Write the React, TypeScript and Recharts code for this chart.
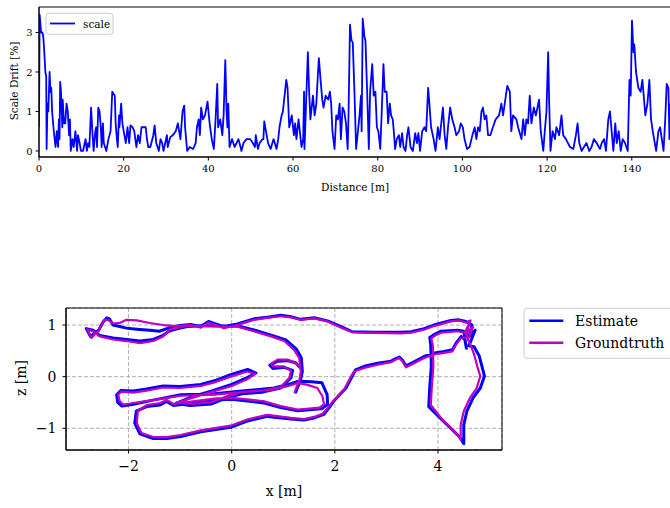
import React from 'react';
import { LineChart, Line, XAxis, YAxis, ReferenceArea, CartesianGrid } from 'recharts';

const FONT = "'DejaVu Serif', serif";

// ---- Top chart: scale drift vs distance ----
const scaleSamples: [number, number][] = [
  [0, 0.6], [0.15, 3.45], [0.5, 3.0], [0.8, 3.0], [1.0, 2.9], [1.2, 2.6], [1.5, 2.0], [1.7, 1.9], [1.8, 0.05],
  [2.0, 1.2], [2.2, 1.0], [2.5, 2.0], [2.7, 1.5], [2.9, 1.6], [3.1, 1.0], [3.5, 0.5], [3.9, 0.1], [4.2, 0.5],
  [4.5, 0.1], [4.7, 0.8], [4.85, 0.3], [5.0, 1.75], [5.2, 1.5], [5.5, 0.6], [5.6, 1.3], [5.9, 0.7], [6.2, 0.7],
  [6.5, 1.2], [6.8, 1.0], [7.1, 0.4], [7.3, 0.8], [7.5, 0.0], [7.9, 0.3], [8.2, 0.1], [8.6, 0.5], [9.0, 0.0],
  [9.2, 0.4], [9.6, 0.2], [9.9, 0.0], [10.4, 0.0], [10.8, 0.2], [11.0, 0.3], [11.3, 0.0], [11.6, 0.2], [11.9, 0.1],
  [12.3, 1.1], [12.6, 0.5], [12.9, 0.0], [13.3, 0.5], [13.5, 0.6], [13.7, 0.1], [14.0, 1.1], [14.3, 1.0], [14.6, 0.6],
  [14.8, 0.1], [15.1, 0.7], [15.3, 0.2], [15.9, 0.0], [16.4, 0.3], [16.9, 0.5], [17.3, 1.5], [17.9, 1.4], [18.1, 0.7],
  [18.4, 0.3], [18.6, 0.1], [18.9, 0.9], [19.0, 0.6], [19.4, 1.2], [19.7, 0.7], [20.0, 0.5], [20.5, 0.2], [20.9, 0.6],
  [21.3, 0.2], [21.6, 0.65], [22.1, 0.6], [22.5, 0.5], [23.0, 0.1], [23.4, 0.4], [23.8, 0.2], [24.2, 0.6], [25.2, 0.6],
  [25.5, 0.3], [25.8, 0.1], [26.3, 0.1], [27.0, 0.4], [27.3, 0.65], [27.7, 0.2], [28.3, 0.0], [28.7, 0.3], [29.1, 0.2],
  [29.4, 0.0], [29.9, 0.25], [30.2, 0.4], [30.4, 0.1], [31.0, 0.35], [31.6, 0.4], [32.3, 0.5], [32.8, 0.7], [33.4, 0.3],
  [33.9, 1.0], [34.3, 1.15], [34.5, 0.6], [35.0, 0.0], [35.6, 0.1], [36.4, 0.05], [37.0, 0.2], [37.3, 0.6], [37.7, 0.8],
  [38.0, 0.4], [38.3, 1.1], [38.7, 0.8], [39.2, 0.9], [39.8, 1.25], [40.3, 0.7], [40.8, 0.3], [41.3, 0.05], [41.7, 0.8],
  [42.1, 1.7], [42.3, 0.6], [42.8, 0.8], [43.3, 0.4], [43.6, 0.9], [44.0, 2.3], [44.3, 1.0], [44.5, 0.6], [44.7, 1.2],
  [45.0, 0.1], [45.6, 0.3], [46.2, 0.1], [47.1, 0.3], [47.6, 0.1], [47.8, 0.0], [48.3, 0.2], [49.0, 0.3], [49.9, 0.3],
  [50.5, 0.2], [51.0, 0.1], [51.2, 0.4], [51.7, 0.05], [52.1, 0.2], [52.8, 0.3], [53.0, 0.3], [53.2, 0.75], [53.6, 0.5],
  [54.1, 0.2], [54.7, 0.05], [55.4, 0.3], [56.1, 0.05], [56.5, 0.3], [56.8, 0.6], [57.3, 0.9], [57.6, 1.0], [58.4, 1.8],
  [58.7, 1.6], [59.1, 0.6], [59.7, 0.9], [60.2, 0.4], [60.5, 0.7], [60.8, 0.3], [61.3, 0.8], [62.0, 0.1], [62.4, 0.3],
  [62.6, 1.5], [62.7, 0.05], [63.5, 2.5], [63.8, 1.5], [64.1, 0.8], [64.7, 1.4], [65.1, 0.9], [65.5, 1.2], [65.9, 2.0],
  [66.1, 2.35], [66.5, 1.8], [66.9, 1.3], [67.2, 1.1], [67.7, 1.4], [68.3, 1.3], [68.7, 1.5], [69.0, 1.2], [69.3, 0.5],
  [69.8, 0.05], [70.2, 0.9], [70.6, 0.8], [71.0, 1.2], [71.3, 0.3], [71.7, 1.1], [72.1, 1.0], [72.5, 0.7], [72.9, 0.05],
  [73.1, 0.9], [73.45, 3.2], [73.8, 2.8], [74.1, 2.75], [74.5, 1.5], [74.9, 0.05], [75.7, 0.9], [76.05, 1.4], [76.2, 0.5],
  [76.45, 3.35], [76.85, 2.9], [77.1, 2.8], [77.5, 1.5], [77.9, 0.05], [78.2, 1.5], [78.7, 2.2], [79.05, 1.4], [79.45, 1.5],
  [79.8, 0.6], [80.15, 0.5], [80.6, 0.05], [80.95, 1.0], [81.35, 2.2], [81.65, 1.5], [82.1, 1.5], [82.45, 0.7], [82.85, 1.2],
  [83.15, 0.9], [83.55, 0.8], [83.8, 0.5], [84.1, 0.05], [84.5, 0.3], [85.0, 0.4], [85.3, 0.1], [85.75, 0.45], [86.1, 0.1],
  [86.55, 0.0], [86.95, 0.4], [87.25, 0.6], [87.75, 0.1], [88.3, 0.0], [88.85, 0.45], [89.25, 0.2], [89.6, 0.45], [90.0, 0.0],
  [90.5, 0.5], [91.05, 0.6], [91.45, 0.5], [91.9, 1.6], [92.2, 1.2], [92.6, 0.6], [93.2, 0.3], [93.65, 0.0], [94.2, 0.6],
  [94.6, 0.3], [95.4, 1.1], [95.8, 0.4], [96.2, 0.05], [96.6, 0.6], [97.1, 1.1], [97.6, 0.8], [98.15, 0.6], [98.55, 0.4],
  [99.2, 0.5], [99.6, 0.7], [100.1, 0.6], [100.5, 0.3], [101.1, 0.05], [101.7, 0.1], [102.35, 0.4], [102.9, 0.6], [103.3, 0.3],
  [103.7, 0.6], [104.1, 0.5], [104.5, 1.0], [104.85, 1.1], [105.25, 0.8], [105.65, 0.9], [106.05, 0.4], [106.6, 0.4], [107.2, 0.6],
  [107.85, 0.8], [108.65, 0.9], [109.2, 1.2], [109.6, 0.9], [110.4, 1.5], [110.6, 1.65], [111.2, 1.5], [111.55, 0.5], [111.95, 0.9],
  [112.75, 0.8], [113.15, 0.6], [113.95, 0.3], [114.35, 0.8], [114.75, 0.4], [115.1, 0.8], [115.5, 0.7], [115.9, 1.4], [116.3, 0.7],
  [116.85, 1.1], [117.35, 0.9], [118.1, 1.3], [118.5, 0.5], [119.1, 0.0], [119.45, 0.5], [119.85, 1.0], [120.25, 2.5], [120.5, 1.2],
  [120.8, 0.0], [121.3, 0.5], [121.85, 0.3], [122.2, 0.6], [122.85, 0.4], [123.4, 0.9], [123.8, 0.4], [124.45, 0.3], [125.4, 0.1],
  [126.2, 0.05], [126.8, 0.4], [127.2, 0.7], [127.6, 0.2], [128.15, 0.0], [128.7, 0.1], [129.3, 0.2], [129.95, 0.0], [130.5, 0.1],
  [131.05, 0.3], [131.7, 0.2], [132.5, 0.05], [132.9, 0.2], [133.45, 0.3], [133.9, 0.0], [134.45, 0.8], [134.85, 1.0], [135.25, 0.5],
  [135.65, 0.0], [136.1, 0.7], [136.45, 0.2], [136.9, 0.5], [137.4, 0.0], [137.85, 0.3], [138.4, 0.2], [139.05, 0.0], [139.45, 1.8],
  [139.75, 1.4], [140.05, 3.3], [140.4, 2.5], [140.6, 2.7], [141.0, 2.0], [141.55, 1.6], [142.1, 1.5], [142.5, 1.8], [142.9, 1.3],
  [143.2, 0.9], [143.7, 1.2], [144.15, 1.8], [144.55, 0.8], [144.95, 0.5], [145.75, 0.0], [146.3, 0.5], [146.7, 0.6], [147.5, 0.0],
  [147.9, 0.8], [148.25, 1.7], [148.65, 1.6], [148.9, 0.3], [149.05, 1.2],
];
const distanceTicks = [0, 20, 40, 60, 80, 100, 120, 140];
const driftTicks = [0, 1, 2, 3];

// ---- Bottom chart: trajectory (x, z) ----
const groundtruthPath: [number, number][] = [
  [1.22, -0.3], [1.26, -0.2], [1.31, -0.09], [1.34, 0.1], [1.31, 0.36], [1.21, 0.52], [1.02, 0.69], [0.76, 0.78],
  [0.43, 0.88], [0.11, 0.97], [-0.15, 0.97], [-0.5, 0.98], [-0.86, 0.98], [-1.0, 0.96], [-1.2, 0.91], [-1.33, 0.78],
  [-1.52, 0.69], [-1.78, 0.65], [-2.04, 0.69], [-2.3, 0.72], [-2.56, 0.78], [-2.69, 0.88], [-2.8, 0.92],
  [-2.72, 0.75], [-2.65, 0.82], [-2.59, 0.88], [-2.52, 1.01], [-2.47, 1.1], [-2.4, 1.1], [-2.3, 1.03], [-2.17, 1.04],
  [-2.04, 1.1], [-1.84, 1.09], [-1.59, 1.04], [-1.33, 1.0], [-1.07, 0.98], [-0.8, 1.0], [-0.6, 0.95], [-0.45, 1.05],
  [-0.34, 1.01], [-0.15, 0.94], [0.11, 1.0], [0.43, 1.1], [0.69, 1.14], [0.95, 1.17], [1.15, 1.15], [1.34, 1.1],
  [1.6, 1.13], [1.86, 1.07], [2.12, 0.95], [2.34, 0.86], [2.76, 0.85], [3.28, 0.84], [3.48, 0.85], [3.73, 0.91],
  [3.92, 0.98], [4.25, 1.07], [4.41, 1.09], [4.54, 1.05],
  [4.63, 1.09], [4.56, 0.86], [4.68, 0.96], [4.58, 0.72], [4.63, 0.62], [4.7, 0.43], [4.77, 0.17], [4.82, 0.01],
  [4.75, -0.22], [4.62, -0.41], [4.5, -0.67], [4.44, -0.93], [4.44, -1.22],
  [4.37, -1.12], [4.3, -1.05], [4.06, -0.8], [3.86, -0.55], [3.88, -0.2], [3.91, 0.2], [3.9, 0.6], [3.87, 0.74],
  [3.95, 0.8], [4.06, 0.85], [4.38, 0.88], [4.52, 0.85], [4.6, 1.02], [4.55, 0.76],
  [4.45, 0.75], [4.35, 0.62], [4.28, 0.49], [4.12, 0.46], [3.93, 0.43], [3.73, 0.36], [3.48, 0.23], [3.38, 0.18],
  [3.31, 0.3], [3.25, 0.36], [3.18, 0.33], [3.09, 0.28], [2.83, 0.23], [2.57, 0.17], [2.37, 0.1], [2.28, -0.06],
  [2.18, -0.25], [2.08, -0.35], [1.96, -0.48], [1.86, -0.61], [1.76, -0.72], [1.6, -0.78], [1.4, -0.82], [1.15, -0.8],
  [0.69, -0.74], [0.3, -0.83], [-0.02, -0.95], [-0.6, -1.04], [-0.99, -1.13], [-1.26, -1.17], [-1.52, -1.17],
  [-1.75, -1.09], [-1.84, -0.9], [-1.82, -0.67],
  [-1.65, -0.55], [-1.39, -0.51], [-1.26, -0.45], [-1.13, -0.53], [-0.9, -0.5], [-0.6, -0.46], [-0.3, -0.42],
  [0.0, -0.41], [0.3, -0.44], [0.63, -0.48], [0.95, -0.57], [1.28, -0.64], [1.5, -0.62], [1.7, -0.6], [1.79, -0.54],
  [1.76, -0.38], [1.66, -0.22], [1.47, -0.16], [1.28, -0.12], [1.1, -0.18], [0.82, -0.25], [0.3, -0.29],
  [-0.34, -0.35], [-0.99, -0.37], [-1.5, -0.45], [-1.91, -0.51], [-2.1, -0.54], [-2.17, -0.48], [-2.2, -0.35],
  [-2.14, -0.29], [-1.91, -0.31], [-1.65, -0.27], [-1.33, -0.21], [-1.0, -0.22], [-0.6, -0.18], [-0.3, -0.1],
  [-0.02, 0.0], [0.3, 0.1], [0.45, 0.05], [0.3, -0.05], [0.0, -0.18], [-0.4, -0.3], [-0.8, -0.42], [-1.05, -0.5],
  [-0.8, -0.53], [-0.4, -0.5], [-0.1, -0.38], [0.2, -0.3], [0.6, -0.27], [0.95, -0.2], [1.12, -0.02], [1.15, 0.12],
  [1.0, 0.2], [0.8, 0.2], [0.76, 0.25], [0.89, 0.33], [1.08, 0.33], [1.24, 0.27], [1.3, 0.2],
];
const estimatePath: [number, number][] = [
  [1.24, -0.3], [1.28, -0.2], [1.33, -0.09], [1.37, 0.1], [1.35, 0.36], [1.25, 0.54], [1.05, 0.71], [0.78, 0.8],
  [0.45, 0.9], [0.12, 0.98], [-0.15, 0.98], [-0.5, 0.99], [-0.86, 0.97], [-1.0, 0.94], [-1.2, 0.89], [-1.33, 0.8],
  [-1.52, 0.72], [-1.78, 0.69], [-2.04, 0.72], [-2.3, 0.75], [-2.56, 0.8], [-2.69, 0.9], [-2.82, 0.93],
  [-2.74, 0.78], [-2.66, 0.84], [-2.58, 0.9], [-2.5, 1.05], [-2.42, 1.14], [-2.37, 1.12], [-2.3, 1.0], [-2.17, 0.97],
  [-2.04, 0.94], [-1.84, 0.92], [-1.59, 0.9], [-1.4, 0.88], [-1.2, 0.95], [-1.0, 0.99], [-0.8, 1.01], [-0.6, 0.97],
  [-0.45, 1.07], [-0.34, 1.03], [-0.15, 0.97], [0.11, 1.02], [0.43, 1.12], [0.69, 1.15], [0.95, 1.19], [1.15, 1.16],
  [1.34, 1.11], [1.6, 1.14], [1.86, 1.08], [2.12, 0.97], [2.34, 0.87], [2.76, 0.86], [3.28, 0.86], [3.48, 0.87],
  [3.73, 0.93], [3.92, 1.0], [4.25, 1.09], [4.41, 1.1], [4.54, 1.07],
  [4.66, 1.0], [4.6, 0.78], [4.72, 0.9], [4.6, 0.6], [4.7, 0.58], [4.8, 0.4], [4.86, 0.17], [4.9, 0.01],
  [4.82, -0.22], [4.68, -0.41], [4.56, -0.67], [4.5, -0.93], [4.5, -1.3],
  [4.42, -1.17], [4.34, -1.09], [4.08, -0.84], [3.82, -0.58], [3.84, -0.2], [3.87, 0.2], [3.86, 0.6], [3.84, 0.76],
  [3.95, 0.83], [4.06, 0.88], [4.38, 0.9], [4.5, 0.88], [4.55, 0.55], [4.52, 0.72],
  [4.45, 0.78], [4.35, 0.65], [4.28, 0.52], [4.12, 0.49], [3.93, 0.46], [3.73, 0.39], [3.48, 0.26], [3.38, 0.21],
  [3.31, 0.32], [3.25, 0.38], [3.18, 0.35], [3.09, 0.3], [2.83, 0.26], [2.57, 0.2], [2.4, 0.13], [2.31, -0.04],
  [2.21, -0.23], [2.11, -0.33], [1.99, -0.46], [1.89, -0.6], [1.79, -0.73], [1.6, -0.8], [1.4, -0.84], [1.15, -0.82],
  [0.69, -0.77], [0.3, -0.86], [-0.02, -0.98], [-0.6, -1.07], [-0.99, -1.16], [-1.26, -1.2], [-1.52, -1.2],
  [-1.78, -1.11], [-1.88, -0.9], [-1.85, -0.67],
  [-1.65, -0.58], [-1.39, -0.55], [-1.26, -0.48], [-1.13, -0.56], [-0.9, -0.53], [-0.6, -0.49], [-0.3, -0.45],
  [0.0, -0.44], [0.3, -0.47], [0.63, -0.51], [0.95, -0.6], [1.28, -0.66], [1.5, -0.64], [1.75, -0.62], [1.86, -0.54],
  [1.85, -0.35], [1.75, -0.12], [1.55, -0.1], [1.3, -0.09], [1.1, -0.15], [0.82, -0.22], [0.3, -0.27],
  [-0.34, -0.33], [-0.99, -0.35], [-1.5, -0.45], [-1.93, -0.54], [-2.13, -0.57], [-2.21, -0.5], [-2.23, -0.35],
  [-2.15, -0.27], [-1.91, -0.28], [-1.65, -0.24], [-1.33, -0.18], [-1.0, -0.19], [-0.6, -0.15], [-0.3, -0.07],
  [-0.02, 0.04], [0.31, 0.14], [0.47, 0.07], [0.3, -0.02], [0.0, -0.15], [-0.4, -0.28], [-0.8, -0.4], [-1.08, -0.52],
  [-0.8, -0.56], [-0.4, -0.53], [-0.1, -0.41], [0.2, -0.33], [0.6, -0.3], [0.95, -0.22], [1.15, -0.02], [1.18, 0.12],
  [1.02, 0.18], [0.8, 0.16], [0.74, 0.22], [0.89, 0.3], [1.08, 0.31], [1.24, 0.27], [1.32, 0.18],
];
const xTicks = [-2, 0, 2, 4];
const zTicks = [-1, 0, 1];

const driftData = scaleSamples.map(([d, v]) => ({ d, v }));
const gtData = groundtruthPath.map(([x, z]) => ({ x, z }));
const estData = estimatePath.map(([x, z]) => ({ x, z }));

const TOP_X_DOMAIN: [number, number] = [0, 149.5];
const TOP_Y_DOMAIN: [number, number] = [-0.153, 3.646];
const BOT_X_DOMAIN: [number, number] = [-3.213, 5.241];
const BOT_Z_DOMAIN: [number, number] = [-1.421, 1.33];

const fmtMinus = (v: number) => (v < 0 ? `\u2212${Math.abs(v)}` : `${v}`);

export default function App() {
  return (
    <div style={{ position: 'absolute', left: 0, top: 0, width: 670, height: 508, overflow: 'hidden', background: '#fff' }}>
      <div style={{ position: 'absolute', left: 0, top: 0 }}>
        <LineChart width={672} height={200} data={driftData} margin={{ top: 7, right: 0, bottom: 0, left: 0 }}>
          <XAxis
            dataKey="d"
            type="number"
            domain={TOP_X_DOMAIN}
            allowDataOverflow
            ticks={distanceTicks}
            height={43}
            tickSize={3.5}
            tickMargin={4}
            stroke="#000"
            tick={{ fill: '#000', fontSize: 10, fontFamily: FONT }}
          />
          <YAxis
            type="number"
            domain={TOP_Y_DOMAIN}
            allowDataOverflow
            ticks={driftTicks}
            width={39}
            tickSize={3.5}
            tickMargin={3}
            stroke="#000"
            tick={{ fill: '#000', fontSize: 10, fontFamily: FONT }}
          />
          <ReferenceArea x1={TOP_X_DOMAIN[0]} x2={TOP_X_DOMAIN[1]} y1={TOP_Y_DOMAIN[0]} y2={TOP_Y_DOMAIN[1]} fill="none" fillOpacity={0} stroke="#000" strokeWidth={1} />
          <Line dataKey="v" type="linear" stroke="#0000ff" strokeWidth={1.8} strokeLinejoin="round" dot={false} isAnimationActive={false} />
        </LineChart>
      </div>
      <div style={{ position: 'absolute', left: 0, top: 290 }}>
        <LineChart width={670} height={218} margin={{ top: 18, right: 168, bottom: 0, left: 0 }}>
          <CartesianGrid stroke="#b0b0b0" strokeDasharray="4 2" />
          <XAxis
            dataKey="x"
            type="number"
            domain={BOT_X_DOMAIN}
            allowDataOverflow
            ticks={xTicks}
            tickFormatter={fmtMinus}
            height={58}
            tickSize={3.5}
            tickMargin={8}
            stroke="#000"
            tick={{ fill: '#000', fontSize: 14, fontFamily: FONT }}
          />
          <YAxis
            dataKey="z"
            type="number"
            domain={BOT_Z_DOMAIN}
            allowDataOverflow
            ticks={zTicks}
            tickFormatter={fmtMinus}
            width={66}
            tickSize={3.5}
            tickMargin={6}
            stroke="#000"
            tick={{ fill: '#000', fontSize: 14, fontFamily: FONT }}
          />
          <ReferenceArea x1={BOT_X_DOMAIN[0]} x2={BOT_X_DOMAIN[1]} y1={BOT_Z_DOMAIN[0]} y2={BOT_Z_DOMAIN[1]} fill="none" fillOpacity={0} stroke="#000" strokeWidth={1} />
          <Line data={estData} dataKey="z" type="linear" stroke="#0000ff" strokeWidth={3} strokeLinejoin="round" strokeLinecap="round" dot={false} isAnimationActive={false} />
          <Line data={gtData} dataKey="z" type="linear" stroke="#bf00bf" strokeWidth={2.2} strokeLinejoin="round" strokeLinecap="round" dot={false} isAnimationActive={false} />
        </LineChart>
      </div>
      <svg width={670} height={508} style={{ position: 'absolute', left: 0, top: 0, pointerEvents: 'none' }} fontFamily={FONT}>
        {/* top axis titles */}
        <text x={13.5} y={81} fontSize={10.5} textAnchor="middle" dominantBaseline="central" transform="rotate(-90 13.5 81)">Scale Drift [%]</text>
        <text x={355} y={187} fontSize={10.5} textAnchor="middle" dominantBaseline="central">Distance [m]</text>
        {/* top legend */}
        <rect x={46} y={13.3} width={67} height={21} rx={3} fill="#fff" fillOpacity={0.8} stroke="#cccccc" strokeWidth={1} />
        <line x1={50} y1={23.5} x2={75} y2={23.5} stroke="#0000ff" strokeWidth={1.8} />
        <text x={83} y={23.5} fontSize={10.5} dominantBaseline="central">scale</text>
        {/* bottom axis titles */}
        <text x={21} y={378} fontSize={14} textAnchor="middle" dominantBaseline="central" transform="rotate(-90 21 378)">z [m]</text>
        <text x={284} y={491} fontSize={14} textAnchor="middle" dominantBaseline="central">x [m]</text>
        {/* bottom legend */}
        <rect x={524} y={308.3} width={160} height={50} rx={3} fill="#fff" fillOpacity={0.8} stroke="#cccccc" strokeWidth={1} />
        <line x1={529.3} y1={320.7} x2={563.3} y2={320.7} stroke="#0000ff" strokeWidth={2.5} />
        <text x={575} y={320.7} fontSize={14} dominantBaseline="central">Estimate</text>
        <line x1={529.3} y1={342.7} x2={563.3} y2={342.7} stroke="#bf00bf" strokeWidth={2.5} />
        <text x={575} y={342.7} fontSize={14} dominantBaseline="central">Groundtruth</text>
      </svg>
    </div>
  );
}
